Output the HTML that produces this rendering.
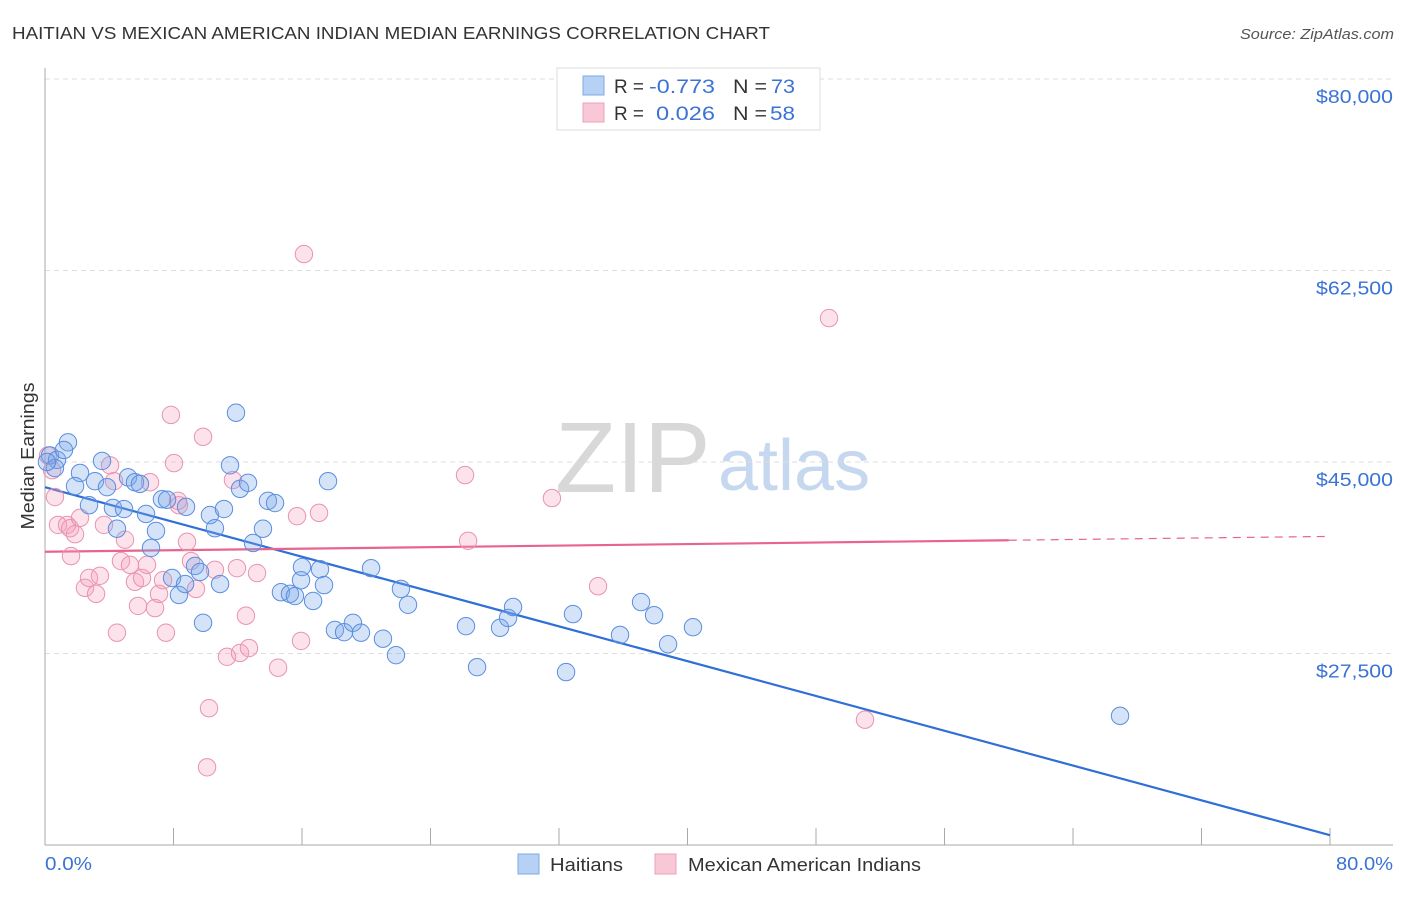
<!DOCTYPE html>
<html><head><meta charset="utf-8"><style>
body{margin:0;background:#fff;font-family:"Liberation Sans",sans-serif;}
svg text{font-family:"Liberation Sans",sans-serif;}
</style></head><body>
<svg id="chart" width="1406" height="892">
<text x="12" y="39" font-size="17.5" fill="#333" textLength="758" lengthAdjust="spacingAndGlyphs">HAITIAN VS MEXICAN AMERICAN INDIAN MEDIAN EARNINGS CORRELATION CHART</text>
<text x="1394" y="39" font-size="15" fill="#555" text-anchor="end" font-style="italic" textLength="154" lengthAdjust="spacingAndGlyphs">Source: ZipAtlas.com</text>
<g>
<text x="555" y="492" font-size="100" fill="#d8d8d8" font-family="Liberation Serif,serif">ZIP</text>
<text x="718" y="490" font-size="72" fill="#c6d8f0">atlas</text>
</g>
<g id="grid"></g>
<g id="axes"></g>
<g id="lines"></g>
<g id="pts"></g>
<text transform="translate(34,456) rotate(-90)" font-size="18" fill="#333" text-anchor="middle" textLength="147" lengthAdjust="spacingAndGlyphs">Median Earnings</text>
<g>
<rect x="557" y="68" width="263" height="62" fill="#fff" stroke="#ddd"/>
<rect x="583" y="76" width="21" height="19" fill="#b7d1f4" stroke="#7fa9e4"/>
<rect x="583" y="103" width="21" height="19" fill="#f9c8d6" stroke="#eda0b8"/>
<text x="614" y="93" font-size="19" fill="#333"><tspan textLength="30" lengthAdjust="spacingAndGlyphs">R =</tspan><tspan x="649" fill="#3b73d4" textLength="66" lengthAdjust="spacingAndGlyphs">-0.773</tspan><tspan x="733" textLength="34" lengthAdjust="spacingAndGlyphs">N =</tspan><tspan x="771" fill="#3b73d4" textLength="24" lengthAdjust="spacingAndGlyphs">73</tspan></text>
<text x="614" y="120" font-size="19" fill="#333"><tspan textLength="30" lengthAdjust="spacingAndGlyphs">R =</tspan><tspan x="656" fill="#3b73d4" textLength="59" lengthAdjust="spacingAndGlyphs">0.026</tspan><tspan x="733" textLength="34" lengthAdjust="spacingAndGlyphs">N =</tspan><tspan x="770" fill="#3b73d4" textLength="25" lengthAdjust="spacingAndGlyphs">58</tspan></text>
</g>
<g>
<rect x="518" y="854" width="21" height="20" fill="#b7d1f4" stroke="#7fa9e4"/>
<text x="550" y="871" font-size="18" fill="#333" textLength="73" lengthAdjust="spacingAndGlyphs">Haitians</text>
<rect x="655" y="854" width="21" height="20" fill="#f9c8d6" stroke="#eda0b8"/>
<text x="688" y="871" font-size="18" fill="#333" textLength="233" lengthAdjust="spacingAndGlyphs">Mexican American Indians</text>
</g>
<text x="45" y="870" font-size="18" fill="#3b73d4" textLength="47" lengthAdjust="spacingAndGlyphs">0.0%</text>
<text x="1336" y="870" font-size="18" fill="#3b73d4" textLength="57" lengthAdjust="spacingAndGlyphs">80.0%</text>
</svg>
<script>
const haitianX=[0.31,0.75,0.62,1.43,1.18,2.18,1.87,3.11,3.55,3.86,2.74,4.23,4.48,4.92,5.17,5.60,5.91,6.29,6.60,6.91,7.28,7.60,7.91,8.34,8.78,8.72,9.34,9.65,9.84,10.27,10.58,10.90,11.14,11.52,11.89,12.14,12.64,12.95,13.57,13.88,14.32,14.69,15.25,15.56,15.94,16.00,16.69,17.12,17.37,17.62,18.05,18.62,19.17,19.67,20.30,21.04,21.85,22.16,22.60,26.21,26.90,28.33,28.83,29.14,32.44,32.87,35.80,37.11,37.92,38.79,40.34,66.93,0.12];
const haitianY=[45600,45200,44450,46800,46100,44000,42800,43250,45100,42700,41050,40800,38900,40700,43600,43150,43000,40250,37150,38700,41600,41550,34400,32850,40900,33850,35500,34950,30300,40150,38950,33850,40700,44700,49500,42550,43100,37600,38900,41450,41250,33100,32950,32750,34200,35400,32300,35200,33750,43250,29650,29450,30300,29400,35300,28850,27350,33400,31950,30000,26250,29850,30750,31750,25800,31100,29200,32200,31000,28350,29900,21800,45000];
const mexicanX=[0.19,0.44,0.62,0.81,1.37,1.56,1.62,1.87,2.18,2.49,2.74,3.18,3.42,3.67,4.05,4.30,4.48,4.73,4.98,5.29,5.60,5.79,6.04,6.35,6.54,6.85,7.10,7.35,7.53,7.84,8.03,8.34,8.84,9.09,9.40,9.84,10.21,10.09,10.58,11.33,11.95,12.14,12.51,12.70,13.20,14.51,15.69,15.94,17.06,26.15,26.34,31.56,34.43,16.12,48.81,51.05,11.70,8.28];
const mexicanY=[45600,44250,41800,39250,39250,38950,36400,38400,39900,33500,34400,32950,34600,39250,44700,43250,29400,35950,37900,35600,34050,31850,34400,35600,43150,31650,32950,34200,29400,49300,44900,41050,37700,35950,33400,47300,22500,17100,35150,27200,35300,27550,30950,28000,34850,26200,40050,28650,40350,43800,37800,41700,33650,64000,58150,21450,43350,41450];
const yTicks=[80000,62500,45000,27500];
const yTickLabels=["$80,000","$62,500","$45,000","$27,500"];
const xTicks=[0,8,16,24,32,40,48,56,64,72,80];
const haitianTrend=[42700,10900];
const mexicanTrend=[36800,38200];

const NS="http://www.w3.org/2000/svg";
const X0=45,X1=1330,Y0=845,Y1=79;
function sx(v){return X0+(v-0)/(80-0)*(X1-X0);}
function sy(v){return Y0-(v-10000)/(80000-10000)*(Y0-Y1);}
function mk(tag,attrs,parent){const e=document.createElementNS(NS,tag);for(const k in attrs)e.setAttribute(k,attrs[k]);parent.appendChild(e);return e;}
const grid=document.getElementById('grid'),axes=document.getElementById('axes'),lines=document.getElementById('lines'),pts=document.getElementById('pts');
yTicks.forEach((t,i)=>{
  const l=mk('line',{x1:X0,x2:1393,y1:sy(t),y2:sy(t),stroke:'#ddd','stroke-dasharray':'5,4'},grid);
  
  
  const tx=mk('text',{x:1316,y:sy(t)+24,'font-size':18,fill:'#3b73d4',textLength:77,lengthAdjust:'spacingAndGlyphs'},grid);
  tx.textContent=yTickLabels[i];
  
  
});
const ya=mk('line',{x1:X0,x2:X0,y1:68,y2:Y0,stroke:'#aaa'},axes);


const xa=mk('line',{x1:X0,x2:1393,y1:Y0,y2:Y0,stroke:'#aaa'},axes);


xTicks.forEach(t=>{
  const l=mk('line',{x1:sx(t),x2:sx(t),y1:828,y2:Y0,stroke:'#aaa'},axes);
  
  
});
function drawPts(xs,ys,fill,stroke,name){
  xs.forEach((x,i)=>{
    const c=mk('circle',{cx:sx(x),cy:sy(ys[i]),r:8.7,fill:fill,stroke:stroke,'stroke-width':1},pts);
    
    
  });
}
drawPts(mexicanX,mexicanY,'rgba(244,160,188,0.3)','#e993b0','mexican-point');
drawPts(haitianX,haitianY,'rgba(120,168,232,0.32)','#5a8ede','haitian-point');
const bl=mk('line',{x1:sx(0),y1:sy(haitianTrend[0]),x2:sx(80),y2:sy(haitianTrend[1]),stroke:'#2f6fd6','stroke-width':2.2},lines);


const mEnd=mexicanTrend[0]+(mexicanTrend[1]-mexicanTrend[0])*60/80;
const pl=mk('line',{x1:sx(0),y1:sy(mexicanTrend[0]),x2:sx(60),y2:sy(mEnd),stroke:'#e8648e','stroke-width':2.2},lines);


const pd=mk('line',{x1:sx(60),y1:sy(mEnd),x2:sx(80),y2:sy(mexicanTrend[1]),stroke:'#e8648e','stroke-width':1.2,'stroke-dasharray':'8,6'},lines);


</script>
</body></html>
